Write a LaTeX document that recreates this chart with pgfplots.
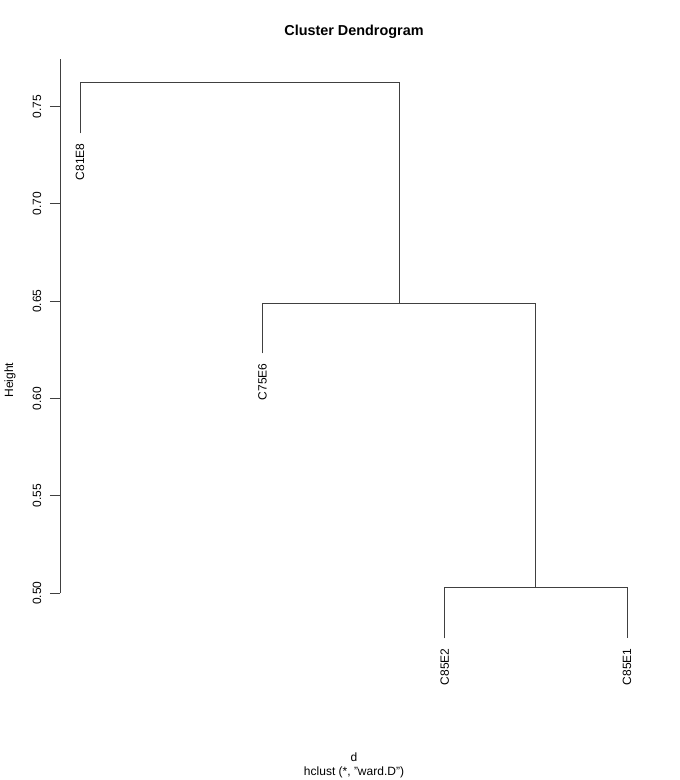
\documentclass[border=0pt]{standalone}
\usepackage{pgfplots}
\pgfplotsset{compat=1.18}
\usepackage{fontspec}
\setmainfont{Liberation Sans}
\begin{document}
\begin{tikzpicture}
\path[use as bounding box] (0pt,0pt) rectangle (510pt,-585pt);
\begin{axis}[
  at={(45pt,-444.75pt)}, anchor=south west,
  scale only axis, width=425.25pt, height=400.5pt,
  xmin=0.89, xmax=4, ymin=0.5, ymax=0.7745,
  axis x line=none, axis y line*=left,
  axis line style={black!75, line width=0.75pt},
  ytick={0.5,0.55,0.6,0.65,0.7,0.75},
  yticklabels={0.50,0.55,0.60,0.65,0.70,0.75},
  tick align=outside, major tick length=7.5pt,
  tick style={black!75, line width=0.75pt},
  yticklabel shift=3pt,
  yticklabel style={rotate=90, anchor=south, font=\fontsize{9}{10}\selectfont},
  /pgf/number format/assume math mode=true,
  clip=false,
]
\addplot[black!75, line width=0.75pt] coordinates {(1,0.7363) (1,0.7623) (2.75,0.7623) (2.75,0.6489)};
\addplot[black!75, line width=0.75pt] coordinates {(2,0.6232) (2,0.6489) (3.5,0.6489) (3.5,0.5029)};
\addplot[black!75, line width=0.75pt] coordinates {(3,0.4767) (3,0.5029) (4,0.5029) (4,0.4767)};
\node[rotate=90, anchor=east, inner ysep=0pt, inner xsep=7.5pt, font=\fontsize{9}{10}\selectfont] at (axis cs:1,0.7363) {C81E8};
\node[rotate=90, anchor=east, inner ysep=0pt, inner xsep=7.5pt, font=\fontsize{9}{10}\selectfont] at (axis cs:2,0.6232) {C75E6};
\node[rotate=90, anchor=east, inner ysep=0pt, inner xsep=7.5pt, font=\fontsize{9}{10}\selectfont] at (axis cs:3,0.4767) {C85E2};
\node[rotate=90, anchor=east, inner ysep=0pt, inner xsep=7.5pt, font=\fontsize{9}{10}\selectfont] at (axis cs:4,0.4767) {C85E1};
\end{axis}
\node[font=\bfseries\fontsize{10.8}{12}\selectfont] at (265.5pt,-24pt) {Cluster Dendrogram};
\node[font=\fontsize{9}{10}\selectfont] at (265.5pt,-567.75pt) {d};
\node[font=\fontsize{9}{10}\selectfont] at (265.5pt,-579pt) {hclust (*, "ward.D")};
\node[rotate=90, font=\fontsize{9}{10}\selectfont] at (7.5pt,-285pt) {Height};
\end{tikzpicture}
\end{document}
